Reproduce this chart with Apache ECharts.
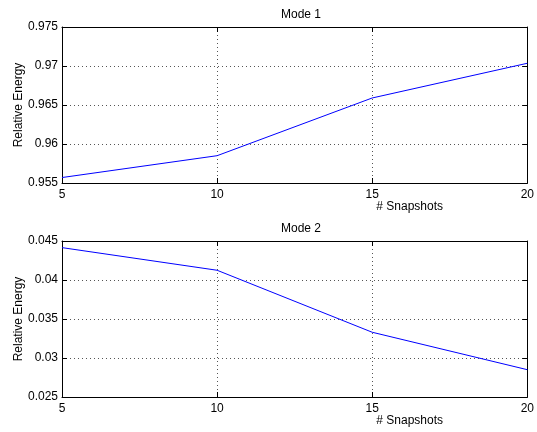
<!DOCTYPE html>
<html>
<head>
<meta charset="utf-8">
<script src="https://cdn.jsdelivr.net/npm/echarts@6/dist/echarts.min.js"></script>
<style>
  html, body { margin: 0; padding: 0; background: #fff; }
  #chart { width: 537px; height: 432px; }
</style>
</head>
<body>
<div id="chart"></div>
<script>
// Snapshot counts on the x axis
const snapshots = [5, 10, 15, 20];
// Relative energy captured by each mode
const mode1Energy = [0.9557, 0.9585, 0.9659, 0.97035];
const mode2Energy = [0.04415, 0.04125, 0.0333, 0.0285];
// Axis ranges and tick steps
const xTicks = { min: 5, max: 20, step: 5 };
const mode1Ticks = { min: 0.955, max: 0.975, step: 0.005 };
const mode2Ticks = { min: 0.025, max: 0.045, step: 0.005 };
const panelTitles = ['Mode 1', 'Mode 2'];
const xLabel = '# Snapshots';
const yLabel = 'Relative Energy';

const FONT = 'Liberation Sans, Arial, Helvetica, sans-serif';
const txt = { color: '#000', fontFamily: FONT, fontSize: 12 };
const fmt = v => String(parseFloat(v.toFixed(4)));

const grids = [
  { left: 62, right: 7, top: 27, height: 156 },
  { left: 62, right: 7, top: 241, height: 156 }
];

function xAxes(gi) {
  return [
    {
      gridIndex: gi, type: 'value', min: xTicks.min, max: xTicks.max, interval: xTicks.step,
      position: 'bottom',
      axisLine: { show: true, onZero: false, lineStyle: { color: '#000', width: 1 } },
      axisTick: { show: true, inside: true, length: 5, lineStyle: { color: '#000' } },
      axisLabel: { ...txt, margin: 6, formatter: fmt },
      splitLine: { show: true, lineStyle: { color: '#555', type: [1, 3], width: 1 } },
      name: xLabel, nameLocation: 'middle', nameGap: 18, nameMoveOverlap: false,
      nameTextStyle: { ...txt, padding: [0, 0, 0, 230] }
    },
    {
      gridIndex: gi, type: 'value', min: xTicks.min, max: xTicks.max, interval: xTicks.step,
      position: 'top',
      axisLine: { show: true, onZero: false, lineStyle: { color: '#000', width: 1 } },
      axisTick: { show: true, inside: true, length: 5, lineStyle: { color: '#000' } },
      axisLabel: { show: false },
      splitLine: { show: false }
    }
  ];
}

function yAxes(gi, t) {
  return [
    {
      gridIndex: gi, type: 'value', min: t.min, max: t.max, interval: t.step,
      position: 'left',
      axisLine: { show: true, onZero: false, lineStyle: { color: '#000', width: 1 } },
      axisTick: { show: true, inside: true, length: 5, lineStyle: { color: '#000' } },
      axisLabel: { ...txt, margin: 4, formatter: fmt },
      splitLine: { show: true, lineStyle: { color: '#555', type: [1, 3], width: 1 } },
      name: yLabel, nameLocation: 'middle', nameGap: 37, nameRotate: 90, nameMoveOverlap: false,
      nameTextStyle: { ...txt }
    },
    {
      gridIndex: gi, type: 'value', min: t.min, max: t.max, interval: t.step,
      position: 'right',
      axisLine: { show: true, onZero: false, lineStyle: { color: '#000', width: 1 } },
      axisTick: { show: true, inside: true, length: 5, lineStyle: { color: '#000' } },
      axisLabel: { show: false },
      splitLine: { show: false }
    }
  ];
}

const option = {
  animation: false,
  backgroundColor: '#fff',
  title: [
    { text: panelTitles[0], left: 296, top: 4, textAlign: 'center', textStyle: { ...txt, fontWeight: 'normal' } },
    { text: panelTitles[1], left: 296, top: 218, textAlign: 'center', textStyle: { ...txt, fontWeight: 'normal' } }
  ],
  grid: grids,
  xAxis: [...xAxes(0), ...xAxes(1)],
  yAxis: [...yAxes(0, mode1Ticks), ...yAxes(1, mode2Ticks)],
  series: [
    {
      type: 'line', xAxisIndex: 0, yAxisIndex: 0,
      data: snapshots.map((x, i) => [x, mode1Energy[i]]),
      showSymbol: false, lineStyle: { color: '#0000ff', width: 1 }
    },
    {
      type: 'line', xAxisIndex: 2, yAxisIndex: 2,
      data: snapshots.map((x, i) => [x, mode2Energy[i]]),
      showSymbol: false, lineStyle: { color: '#0000ff', width: 1 }
    }
  ]
};

echarts.init(document.getElementById('chart'), null, { renderer: 'canvas' }).setOption(option);
</script>
</body>
</html>
